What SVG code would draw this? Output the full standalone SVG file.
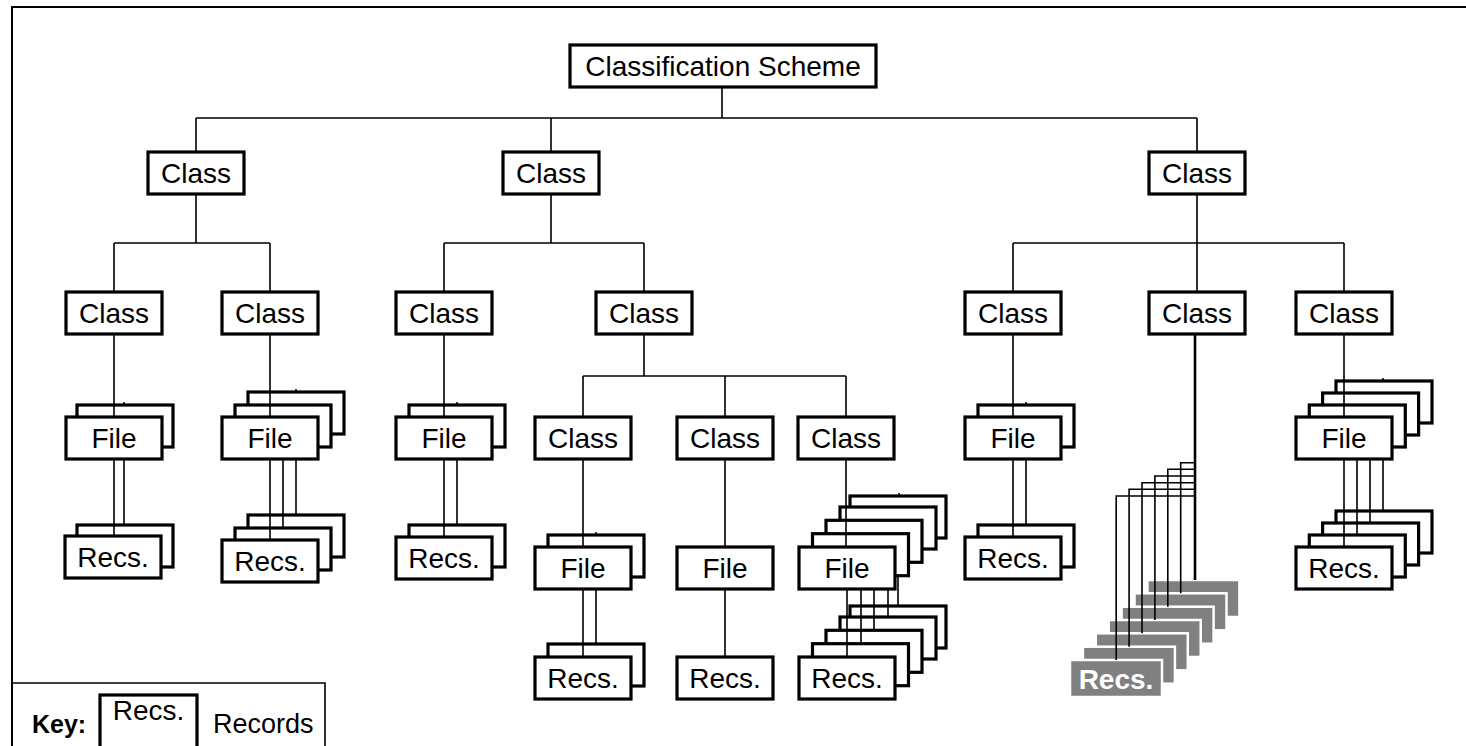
<svg xmlns="http://www.w3.org/2000/svg" width="1466" height="746" viewBox="0 0 1466 746">
<style>
.bx{fill:#fff;stroke:#000;stroke-width:3.2}
.gb{fill:#808080;stroke:#fff;stroke-width:2.5}
.t{font-family:"Liberation Sans",Arial,Helvetica,sans-serif;font-size:28px;text-anchor:middle;fill:#000}
.tw{font-family:"Liberation Sans",Arial,Helvetica,sans-serif;font-size:28px;font-weight:bold;text-anchor:middle;fill:#fff}
.c{stroke:#000;stroke-width:1.6;fill:none}
.ck{stroke:#000;stroke-width:2.6;fill:none}
.fr{stroke:#000;stroke-width:2;fill:none}
</style>
<rect width="1466" height="746" fill="#fff"/>
<g id="frame">
<path class="fr" d="M12,746 V7 H1466"/>
</g>
<g id="scheme"><rect class="bx" x="570" y="45" width="306" height="42"/><text class="t" x="723" y="76">Classification Scheme</text></g>
<g id="class-2a"><rect class="bx" x="148" y="152" width="96" height="42"/><text class="t" x="196" y="183">Class</text></g>
<g id="class-2b"><rect class="bx" x="503" y="152" width="96" height="42"/><text class="t" x="551" y="183">Class</text></g>
<g id="class-2c"><rect class="bx" x="1149" y="152" width="96" height="42"/><text class="t" x="1197" y="183">Class</text></g>
<g id="class-3a"><rect class="bx" x="66" y="292" width="96" height="42"/><text class="t" x="114" y="323">Class</text></g>
<g id="class-3b"><rect class="bx" x="222" y="292" width="96" height="42"/><text class="t" x="270" y="323">Class</text></g>
<g id="class-3c"><rect class="bx" x="396" y="292" width="96" height="42"/><text class="t" x="444" y="323">Class</text></g>
<g id="class-3d"><rect class="bx" x="596" y="292" width="96" height="42"/><text class="t" x="644" y="323">Class</text></g>
<g id="class-3e"><rect class="bx" x="965" y="292" width="96" height="42"/><text class="t" x="1013" y="323">Class</text></g>
<g id="class-3f"><rect class="bx" x="1149" y="292" width="96" height="42"/><text class="t" x="1197" y="323">Class</text></g>
<g id="class-3g"><rect class="bx" x="1296" y="292" width="96" height="42"/><text class="t" x="1344" y="323">Class</text></g>
<g id="class-4a"><rect class="bx" x="535" y="417" width="96" height="42"/><text class="t" x="583" y="448">Class</text></g>
<g id="class-4b"><rect class="bx" x="677" y="417" width="96" height="42"/><text class="t" x="725" y="448">Class</text></g>
<g id="class-4c"><rect class="bx" x="798" y="417" width="96" height="42"/><text class="t" x="846" y="448">Class</text></g>
<g id="file-1"><rect class="bx" x="77" y="405" width="96" height="42"/><rect class="bx" x="66" y="417" width="96" height="42"/><text class="t" x="114" y="448">File</text></g>
<g id="file-2"><rect class="bx" x="248" y="392" width="96" height="42"/><rect class="bx" x="235" y="405" width="96" height="42"/><rect class="bx" x="222" y="417" width="96" height="42"/><text class="t" x="270" y="448">File</text></g>
<g id="file-3"><rect class="bx" x="409" y="405" width="96" height="42"/><rect class="bx" x="396" y="417" width="96" height="42"/><text class="t" x="444" y="448">File</text></g>
<g id="file-5"><rect class="bx" x="978" y="405" width="96" height="42"/><rect class="bx" x="965" y="417" width="96" height="42"/><text class="t" x="1013" y="448">File</text></g>
<g id="file-7"><rect class="bx" x="1336" y="381" width="96" height="42"/><rect class="bx" x="1322.6" y="393" width="96" height="42"/><rect class="bx" x="1309.3" y="405" width="96" height="42"/><rect class="bx" x="1296" y="417" width="96" height="42"/><text class="t" x="1344" y="448">File</text></g>
<g id="file-4a"><rect class="bx" x="548" y="535" width="96" height="42"/><rect class="bx" x="535" y="547" width="96" height="42"/><text class="t" x="583" y="578">File</text></g>
<g id="file-4b"><rect class="bx" x="677" y="547" width="96" height="42"/><text class="t" x="725" y="578">File</text></g>
<g id="file-4c"><rect class="bx" x="850" y="496" width="96" height="42"/><rect class="bx" x="840" y="507" width="96" height="42"/><rect class="bx" x="826" y="520.3" width="96" height="42"/><rect class="bx" x="812.5" y="533.7" width="96" height="42"/><rect class="bx" x="799" y="547" width="96" height="42"/><text class="t" x="847" y="578">File</text></g>
<g id="recs-1"><rect class="bx" x="77" y="525" width="96" height="42"/><rect class="bx" x="65" y="536" width="96" height="42"/><text class="t" x="113" y="567">Recs.</text></g>
<g id="recs-2"><rect class="bx" x="248" y="515" width="96" height="42"/><rect class="bx" x="235" y="528" width="96" height="42"/><rect class="bx" x="222" y="540" width="96" height="42"/><text class="t" x="270" y="571">Recs.</text></g>
<g id="recs-3"><rect class="bx" x="409" y="525" width="96" height="42"/><rect class="bx" x="396" y="537" width="96" height="42"/><text class="t" x="444" y="568">Recs.</text></g>
<g id="recs-5"><rect class="bx" x="978" y="525" width="96" height="42"/><rect class="bx" x="965" y="537" width="96" height="42"/><text class="t" x="1013" y="568">Recs.</text></g>
<g id="recs-7"><rect class="bx" x="1336" y="511" width="96" height="42"/><rect class="bx" x="1322.6" y="523" width="96" height="42"/><rect class="bx" x="1309.3" y="535" width="96" height="42"/><rect class="bx" x="1296" y="547" width="96" height="42"/><text class="t" x="1344" y="578">Recs.</text></g>
<g id="recs-4a"><rect class="bx" x="548" y="644" width="96" height="42"/><rect class="bx" x="535" y="657" width="96" height="42"/><text class="t" x="583" y="688">Recs.</text></g>
<g id="recs-4b"><rect class="bx" x="677" y="657" width="96" height="42"/><text class="t" x="725" y="688">Recs.</text></g>
<g id="recs-4c"><rect class="bx" x="850" y="606" width="96" height="42"/><rect class="bx" x="840" y="617" width="96" height="42"/><rect class="bx" x="826" y="630.3" width="96" height="42"/><rect class="bx" x="812.5" y="643.7" width="96" height="42"/><rect class="bx" x="799" y="657" width="96" height="42"/><text class="t" x="847" y="688">Recs.</text></g>
<g id="recs-6">
<rect class="gb" x="1147.4" y="580" width="92" height="37"/>
<rect class="gb" x="1134.5" y="593.3" width="92" height="37"/>
<rect class="gb" x="1121.6" y="606.7" width="92" height="37"/>
<rect class="gb" x="1108.7" y="620" width="92" height="37"/>
<rect class="gb" x="1095.8" y="633.3" width="92" height="37"/>
<rect class="gb" x="1082.9" y="646.7" width="92" height="37"/>
<rect class="gb" x="1070" y="660" width="92" height="37"/>
<text class="tw" x="1116" y="689">Recs.</text>
</g>
<g id="connectors">
<path class="c" d="M722,87 V118 M196,118 H1197 M196,118 V152 M551,118 V152 M1197,118 V152"/>
<path class="c" d="M196,194 V243 M114,243 H270 M114,243 V292 M270,243 V292"/>
<path class="c" d="M551,194 V243 M444,243 H644 M444,243 V292 M644,243 V292"/>
<path class="c" d="M1197,194 V243 M1013,243 H1344 M1013,243 V292 M1197,243 V292 M1344,243 V292"/>
<path class="c" d="M114,334 V417 M114,459 V536 M124,459 V525 M124,402 V405"/>
<path class="c" d="M270,334 V417 M270,459 V540 M283,459 V528 M296,459 V515 M296,389 V392"/>
<path class="c" d="M444,334 V417 M444,459 V537 M457,459 V525 M457,402 V405"/>
<path class="c" d="M644,334 V376 M583,376 H846 M583,376 V417 M725,376 V417 M846,376 V417"/>
<path class="c" d="M583,459 V547 M583,589 V657 M596,589 V644 M596,532 V535"/>
<path class="c" d="M725,459 V547 M725,589 V657"/>
<path class="c" d="M846,459 V547 M847,589 V657 M861,589 V643.7 M874,589 V630.3 M888,589 V617 M898,575.7 V606 M899,493 V496"/>
<path class="c" d="M1013,334 V417 M1013,459 V537 M1026,459 V525 M1026,402 V405"/>
<path class="c" d="M1344,334 V417 M1344,459 V547 M1357,459 V535 M1370,459 V523 M1383,459 V511 M1383,378 V381"/>
<path class="ck" d="M1195,334 V580"/>
<path class="c" d="M1195,462.7 H1180.7 V593.3 M1195,469.3 H1167.8 V606.7 M1195,476 H1154.9 V620 M1195,482.7 H1142 V633.3 M1195,489.3 H1129.1 V646.7 M1195,496 H1116.2 V660"/>
</g>
<g id="key">
<path class="c" d="M12,683 H325 V746"/>
<text x="32" y="733" style="font-family:'Liberation Sans',Arial,Helvetica,sans-serif;font-size:25px;font-weight:bold;fill:#000">Key:</text>
<rect class="bx" x="100" y="695" width="97" height="60"/>
<text class="t" x="148.5" y="720">Recs.</text>
<text x="213" y="733" style="font-family:'Liberation Sans',Arial,Helvetica,sans-serif;font-size:27px;fill:#000">Records</text>
</g>
</svg>
